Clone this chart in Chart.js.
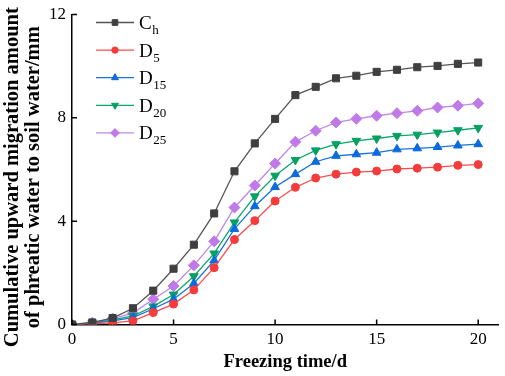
<!DOCTYPE html>
<html>
<head>
<meta charset="utf-8">
<script src="https://cdn.jsdelivr.net/npm/chart.js@4.4.1/dist/chart.umd.min.js"></script>
<style>
html,body{margin:0;padding:0;background:#fff;}
#wrap{width:505px;height:376px;}
</style>
</head>
<body>
<div id="wrap"><canvas id="c" width="505" height="376"></canvas></div>
<script>
const days = [0,1,2,3,4,5,6,7,8,9,10,11,12,13,14,15,16,17,18,19,20];
const seriesCh  = [0,0.08,0.25,0.63,1.31,2.16,3.09,4.30,5.93,7.01,7.96,8.88,9.20,9.53,9.63,9.78,9.86,9.96,10.01,10.09,10.14];
const seriesD5  = [0,0.02,0.06,0.14,0.46,0.79,1.34,2.20,3.29,4.02,4.78,5.31,5.67,5.82,5.90,5.94,6.02,6.05,6.09,6.16,6.19];
const seriesD15 = [0,0.04,0.14,0.27,0.61,0.98,1.59,2.48,3.70,4.58,5.32,5.82,6.30,6.53,6.59,6.65,6.78,6.82,6.87,6.93,6.98];
const seriesD20 = [0,0.05,0.18,0.33,0.70,1.16,1.87,2.75,3.95,4.96,5.76,6.37,6.74,6.98,7.11,7.20,7.30,7.35,7.43,7.52,7.61];
const seriesD25 = [0,0.07,0.23,0.44,0.98,1.49,2.29,3.22,4.53,5.38,6.23,7.07,7.50,7.82,7.96,8.08,8.18,8.27,8.40,8.47,8.56];
const legendMain = ['C','D','D','D','D'];
const legendSub  = ['h','5','15','20','25'];
const xTicks = [0,5,10,15,20];
const yTicks = [0,4,8,12];

const SERIF = '"Liberation Serif","Times New Roman",serif';
const toPts = v => days.map((d,i)=>({x:d,y:v[i]}));

function ds(label, data, line, fill, style, radius, rotation){
  return {label, data: toPts(data), borderColor: line, backgroundColor: fill,
    pointBackgroundColor: fill, pointBorderColor: fill, pointStyle: style,
    pointRadius: radius, pointRotation: rotation||0, pointBorderWidth: 1,
    borderWidth: 1.3, tension: 0, fill: false};
}

const inwardTicks = {
  id: 'inwardTicks',
  afterDraw(chart){
    const ctx = chart.ctx, xs = chart.scales.x, ys = chart.scales.y, a = chart.chartArea;
    ctx.save();
    ctx.strokeStyle = '#000'; ctx.lineWidth = 1.5;
    ctx.beginPath();
    xs.ticks.forEach(t=>{ const p = xs.getPixelForValue(t.value); ctx.moveTo(p, a.bottom); ctx.lineTo(p, a.bottom-5); });
    ys.ticks.forEach(t=>{ const p = ys.getPixelForValue(t.value); ctx.moveTo(a.left, p); ctx.lineTo(a.left+5, p); });
    ctx.stroke();
    ctx.restore();
  }
};

const subLegend = {
  id: 'subLegend',
  afterDraw(chart){
    const ctx = chart.ctx, a = chart.chartArea;
    ctx.save();
    chart.data.datasets.forEach((d,i)=>{
      const y = a.top + 8 + i*27.6;
      const x0 = a.left + 24, x1 = a.left + 62, xm = (x0+x1)/2;
      ctx.strokeStyle = d.borderColor; ctx.lineWidth = 1.3;
      ctx.beginPath(); ctx.moveTo(x0,y); ctx.lineTo(x1,y); ctx.stroke();
      ctx.fillStyle = d.pointBackgroundColor; ctx.strokeStyle = d.pointBorderColor; ctx.lineWidth = 1;
      Chart.helpers.drawPoint(ctx, {pointStyle: d.pointStyle, radius: d.pointRadius*0.8, rotation: d.pointRotation, borderWidth: 1}, xm, y);
      ctx.fillStyle = '#000';
      ctx.textBaseline = 'alphabetic'; ctx.textAlign = 'left';
      ctx.font = '19px ' + SERIF;
      const tx = a.left + 67, by = y + 6.5;
      ctx.fillText(legendMain[i], tx, by);
      const w = ctx.measureText(legendMain[i]).width;
      ctx.font = '13px ' + SERIF;
      ctx.fillText(legendSub[i], tx + w + 0.5, by + 5);
    });
    ctx.restore();
  }
};

new Chart(document.getElementById('c'), {
  type: 'line',
  data: {
    datasets: [
      ds('Ch',  seriesCh,  '#555555', '#3f3f3f', 'rect', 5),
      ds('D5',  seriesD5,  '#ff4d4d', '#f53b3b', 'circle', 4),
      ds('D15', seriesD15, '#1873e0', '#0a6ade', 'triangle', 5),
      ds('D20', seriesD20, '#0aa86a', '#05a062', 'triangle', 5, 180),
      ds('D25', seriesD25, '#c286ea', '#bf7ae8', 'rectRot', 5.5)
    ]
  },
  options: {
    responsive: false,
    devicePixelRatio: 1,
    animation: false,
    layout: { padding: { left: 0, right: 2.5, top: 10, bottom: 0 } },
    plugins: { legend: { display: false }, tooltip: { enabled: false } },
    scales: {
      x: {
        type: 'linear', min: 0, max: 21,
        afterBuildTicks: s => { s.ticks = xTicks.map(v=>({value:v})); },
        afterFit: s => { s.height = 51.5; },
        grid: { display: false, drawTicks: false },
        border: { display: true, color: '#000', width: 1.5 },
        ticks: { color: '#000', padding: 7, font: { family: SERIF, size: 17, lineHeight: 1 }, maxRotation: 0, autoSkip: false },
        title: { display: true, text: 'Freezing time/d', color: '#000', padding: { top: 0, bottom: 4 },
                 font: { family: SERIF, size: 18.5, weight: 'bold', lineHeight: 1.1 } }
      },
      y: {
        type: 'linear', min: 0, max: 12,
        afterBuildTicks: s => { s.ticks = yTicks.map(v=>({value:v})); },
        afterFit: s => { s.width = 72; },
        grid: { display: false, drawTicks: false },
        border: { display: true, color: '#000', width: 1.5 },
        ticks: { color: '#000', padding: 6, font: { family: SERIF, size: 17, lineHeight: 1 } },
        title: { display: true,
                 text: ['Cumulative upward migration amount   ', 'of phreatic water to soil water/mm   '],
                 color: '#000', padding: { top: 2.5, bottom: 0 },
                 font: { family: SERIF, size: 20.5, weight: 'bold', lineHeight: 1.0 } }
      }
    }
  },
  plugins: [inwardTicks, subLegend]
});
</script>
</body>
</html>
